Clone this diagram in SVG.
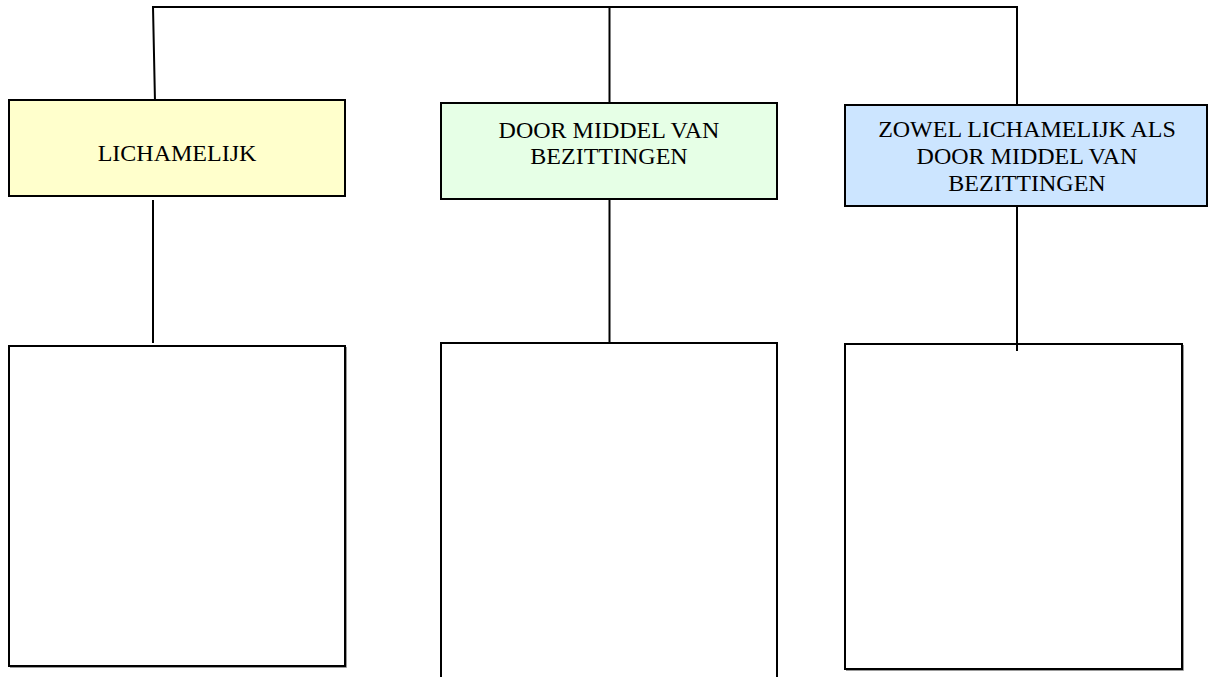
<svg xmlns="http://www.w3.org/2000/svg" width="1208" height="677" viewBox="0 0 1208 677">
  <style>
    .box { stroke: #000; stroke-width: 2; }
    .shadow { fill: none; stroke: #999; stroke-width: 1; }
    .conn { stroke: #000; stroke-width: 2; fill: none; }
    .lbl { font-family: "Liberation Serif", "Times New Roman", serif; font-size: 24px; fill: #000; text-anchor: middle; }
  </style>
  <rect width="1208" height="677" fill="#fff"/>
  <g id="connectors">
    <polyline class="conn" points="155,102 153,7 1017,7 1017,105"/>
    <line class="conn" x1="609.5" y1="7" x2="609.5" y2="103"/>
    <line class="conn" x1="153" y1="200" x2="153" y2="343"/>
    <line class="conn" x1="609.5" y1="199" x2="609.5" y2="343"/>
    <line class="conn" x1="1017" y1="206" x2="1017" y2="351"/>
  </g>
  <g id="node-lichamelijk">
    <rect class="box" x="9" y="100" width="336" height="96" fill="#FFFFCC"/>
    <text class="lbl" x="177" y="161">LICHAMELIJK</text>
  </g>
  <g id="node-bezittingen">
    <rect class="box" x="441" y="103" width="336" height="96" fill="#E6FFE6"/>
    <text class="lbl" x="609" y="138">DOOR MIDDEL VAN</text>
    <text class="lbl" x="609" y="164">BEZITTINGEN</text>
  </g>
  <g id="node-beide">
    <rect class="box" x="845" y="105" width="362" height="101" fill="#CCE5FF"/>
    <text class="lbl" x="1027" y="137">ZOWEL LICHAMELIJK ALS</text>
    <text class="lbl" x="1027" y="164">DOOR MIDDEL VAN</text>
    <text class="lbl" x="1027" y="191">BEZITTINGEN</text>
  </g>
  <g id="node-empty-1">
    <rect class="box" x="9" y="346" width="336" height="320" fill="#fff"/>
    <polyline class="shadow" points="10,667.5 346.5,667.5 346.5,347"/>
  </g>
  <g id="node-empty-2">
    <rect class="box" x="441" y="343" width="336" height="340" fill="#fff"/>
  </g>
  <g id="node-empty-3">
    <rect class="box" x="845" y="344" width="337" height="325" fill="#fff"/>
    <polyline class="shadow" points="846,670.5 1183.5,670.5 1183.5,345"/>
  </g>
  <line class="conn" x1="1017" y1="344" x2="1017" y2="351"/>
</svg>
